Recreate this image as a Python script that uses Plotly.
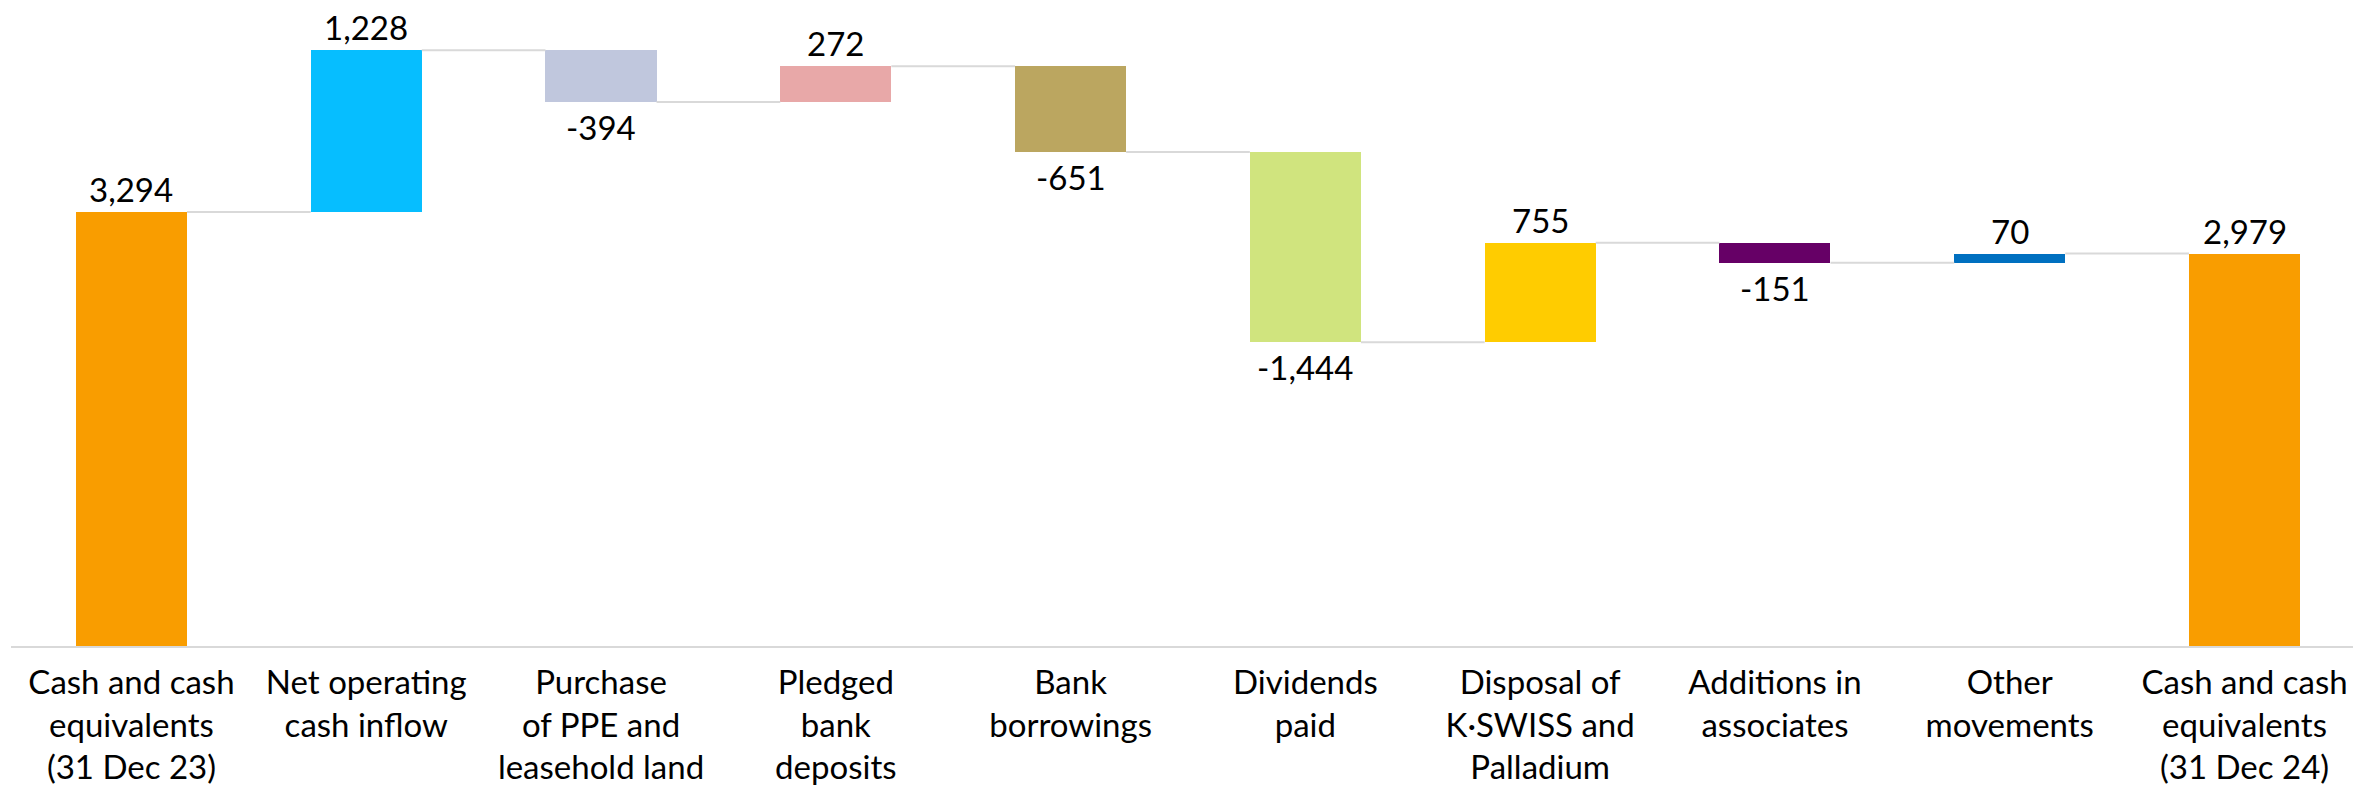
import plotly.graph_objects as go

categories = [
    "Cash and cash<br>equivalents<br>(31 Dec 23)",
    "Net operating<br>cash inflow",
    "Purchase<br>of PPE and<br>leasehold land",
    "Pledged<br>bank<br>deposits",
    "Bank<br>borrowings",
    "Dividends<br>paid",
    "Disposal of<br>K·SWISS and<br>Palladium",
    "Additions in<br>associates",
    "Other<br>movements",
    "Cash and cash<br>equivalents<br>(31 Dec 24)",
]
values = [3294, 1228, -394, 272, -651, -1444, 755, -151, 70, 2979]
kinds = ["total", "delta", "delta", "delta", "delta", "delta", "delta", "delta", "delta", "total"]
colors = ["#F99D00", "#06BEFF", "#C0C7DD", "#E8A8A8", "#BBA660",
          "#D0E47E", "#FFCC00", "#660066", "#0070C0", "#F99D00"]

FONT = "Lato, sans-serif"
BAR_W = 0.473

bases, heights, ends = [], [], []
running = 0
for v, k in zip(values, kinds):
    if k == "total":
        bases.append(0)
        heights.append(v)
        running = v
    else:
        bases.append(running)
        heights.append(v)
        running += v
    ends.append(running)

xs = list(range(len(values)))

fig = go.Figure()
fig.add_trace(go.Bar(
    x=xs, y=heights, base=bases, width=BAR_W,
    marker=dict(color=colors, line=dict(width=0)),
    hoverinfo="skip", showlegend=False,
))

cx, cy = [], []
for i in range(len(values) - 1):
    cx += [i + BAR_W / 2, i + 1 - BAR_W / 2, None]
    cy += [ends[i], ends[i], None]
fig.add_trace(go.Scatter(
    x=cx, y=cy, mode="lines",
    line=dict(color="#D9D9D9", width=2),
    hoverinfo="skip", showlegend=False,
))

for i, (v, k) in enumerate(zip(values, kinds)):
    txt = f"{v:,}"
    if k == "total" or v >= 0:
        fig.add_annotation(x=i, y=ends[i], text=txt, showarrow=False,
                           yanchor="bottom", yshift=1,
                           font=dict(family=FONT, size=33, color="#000000"))
    else:
        fig.add_annotation(x=i, y=ends[i], text=txt, showarrow=False,
                           yanchor="top", yshift=-3,
                           font=dict(family=FONT, size=33, color="#000000"))

fig.update_layout(
    width=2364, height=788,
    margin=dict(l=11, r=11, t=0, b=142),
    paper_bgcolor="white", plot_bgcolor="white",
    bargap=0,
    font=dict(family=FONT, size=33, color="#000000"),
)
fig.update_xaxes(
    range=[-0.513, 9.462],
    tickmode="array", tickvals=xs, ticktext=categories,
    showline=True, linecolor="#D9D9D9", linewidth=2,
    showgrid=False, zeroline=False, ticks="",
    ticklabelstandoff=6,
    tickfont=dict(family=FONT, size=33, color="#000000"),
    fixedrange=True,
)
fig.update_yaxes(
    range=[0, 4903], visible=False, showgrid=False, zeroline=False,
    fixedrange=True,
)

fig.write_html("out.html")
